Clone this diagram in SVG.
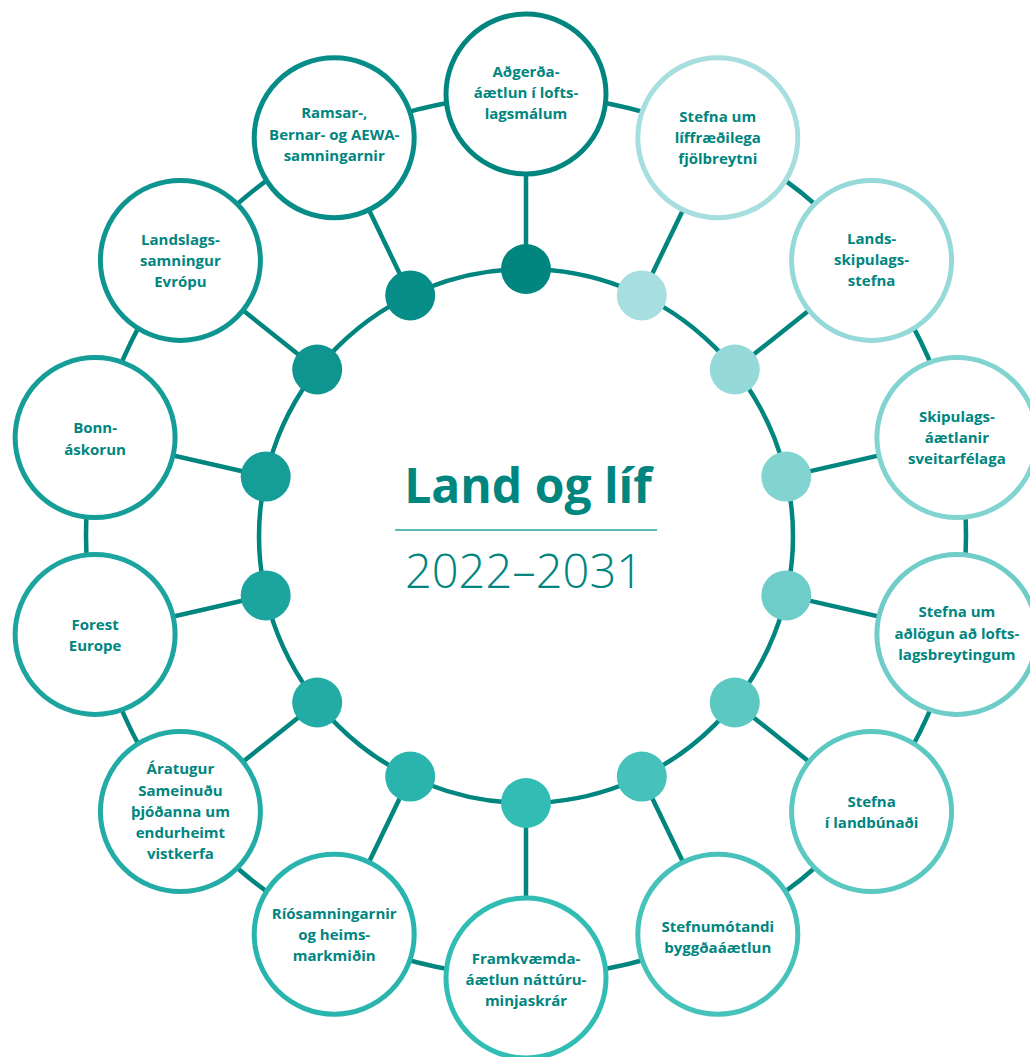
<svg xmlns="http://www.w3.org/2000/svg" width="1030" height="1057" viewBox="0 0 1030 1057">
<style>
.bg{fill:#ffffff}
.conn{stroke:#00857f;stroke-width:4.5;fill:none}
.node{fill:#ffffff;stroke-width:5}
.lbl{font-family:"Open Sans","Noto Sans",sans-serif;font-weight:700;font-size:15px;fill:#00857f;text-anchor:middle}
.title{font-family:"Open Sans","Noto Sans",sans-serif;font-weight:700;font-size:48px;fill:#00857f;text-anchor:middle}
.years{font-family:"Open Sans","Noto Sans",sans-serif;font-weight:300;font-size:47px;fill:#00857f;text-anchor:middle}
</style>
<rect class="bg" x="0" y="0" width="1030" height="1057"/>
<g id="connectors">
<circle class="conn" cx="526" cy="536" r="440"/>
<circle class="conn" cx="526" cy="536" r="267"/>
<line class="conn" x1="526" y1="269" x2="526" y2="94"/>
<line class="conn" x1="641.8" y1="295.4" x2="717.8" y2="137.8"/>
<line class="conn" x1="734.8" y1="369.5" x2="871.6" y2="260.4"/>
<line class="conn" x1="786.3" y1="476.6" x2="956.9" y2="437.6"/>
<line class="conn" x1="786.3" y1="595.4" x2="956.9" y2="634.4"/>
<line class="conn" x1="734.8" y1="702.5" x2="871.6" y2="811.6"/>
<line class="conn" x1="641.8" y1="776.6" x2="717.8" y2="934.2"/>
<line class="conn" x1="526" y1="803" x2="526" y2="978"/>
<line class="conn" x1="410.2" y1="776.6" x2="334.2" y2="934.2"/>
<line class="conn" x1="317.2" y1="702.5" x2="180.4" y2="811.6"/>
<line class="conn" x1="265.7" y1="595.4" x2="95.1" y2="634.4"/>
<line class="conn" x1="265.7" y1="476.6" x2="95.1" y2="437.6"/>
<line class="conn" x1="317.2" y1="369.5" x2="180.4" y2="260.4"/>
<line class="conn" x1="410.2" y1="295.4" x2="334.2" y2="137.8"/>
</g>
<g id="center">
<text class="title" x="528" y="503">Land og líf</text>
<line x1="395" y1="530" x2="657" y2="530" stroke="#26a39d" stroke-width="1.5"/>
<text class="years" x="524" y="588">2022–2031</text>
</g>
<g id="n1">
<circle class="node" cx="526" cy="94" r="80" stroke="#00867f"/>
<circle cx="526" cy="269" r="25" fill="#00867f"/>
<text class="lbl" x="526"><tspan x="526" y="77">Aðgerða-</tspan><tspan x="526" y="98.2">áætlun í lofts-</tspan><tspan x="526" y="119.4">lagsmálum</tspan></text>
</g>
<g id="n2">
<circle class="node" cx="717.8" cy="137.8" r="80" stroke="#a7dedf"/>
<circle cx="641.8" cy="295.4" r="25" fill="#a7dedf"/>
<text class="lbl"><tspan x="717.8" y="121.7">Stefna um</tspan><tspan x="717.8" y="142.9">líffræðilega</tspan><tspan x="717.8" y="164.1">fjölbreytni</tspan></text>
</g>
<g id="n3">
<circle class="node" cx="871.6" cy="260.4" r="80" stroke="#95d9d9"/>
<circle cx="734.8" cy="369.5" r="25" fill="#95d9d9"/>
<text class="lbl"><tspan x="871.6" y="244">Lands-</tspan><tspan x="871.6" y="265.2">skipulags-</tspan><tspan x="871.6" y="286.4">stefna</tspan></text>
</g>
<g id="n4">
<circle class="node" cx="956.9" cy="437.6" r="80" stroke="#82d4d1"/>
<circle cx="786.3" cy="476.6" r="25" fill="#82d4d1"/>
<text class="lbl"><tspan x="956.9" y="421.7">Skipulags-</tspan><tspan x="956.9" y="442.9">áætlanir</tspan><tspan x="956.9" y="464.1">sveitarfélaga</tspan></text>
</g>
<g id="n5">
<circle class="node" cx="956.9" cy="634.4" r="80" stroke="#6ecdc9"/>
<circle cx="786.3" cy="595.4" r="25" fill="#6ecdc9"/>
<text class="lbl"><tspan x="956.9" y="617.3">Stefna um</tspan><tspan x="956.9" y="638.5">aðlögun að lofts-</tspan><tspan x="956.9" y="659.7">lagsbreytingum</tspan></text>
</g>
<g id="n6">
<circle class="node" cx="871.6" cy="811.6" r="80" stroke="#5bc8c2"/>
<circle cx="734.8" cy="702.5" r="25" fill="#5bc8c2"/>
<text class="lbl"><tspan x="871.6" y="806.7">Stefna</tspan><tspan x="871.6" y="827.9">í landbúnaði</tspan></text>
</g>
<g id="n7">
<circle class="node" cx="717.8" cy="934.2" r="80" stroke="#46c2bb"/>
<circle cx="641.8" cy="776.6" r="25" fill="#46c2bb"/>
<text class="lbl"><tspan x="717.8" y="931.7">Stefnumótandi</tspan><tspan x="717.8" y="952.9">byggðaáætlun</tspan></text>
</g>
<g id="n8">
<circle class="node" cx="526" cy="978" r="80" stroke="#31bdb4"/>
<circle cx="526" cy="803" r="25" fill="#31bdb4"/>
<text class="lbl"><tspan x="526" y="964">Framkvæmda-</tspan><tspan x="526" y="985.2">áætlun náttúru-</tspan><tspan x="526" y="1006.4">minjaskrár</tspan></text>
</g>
<g id="n9">
<circle class="node" cx="334.2" cy="934.2" r="80" stroke="#29b5ae"/>
<circle cx="410.2" cy="776.6" r="25" fill="#29b5ae"/>
<text class="lbl"><tspan x="334.2" y="919">Ríósamningarnir</tspan><tspan x="334.2" y="940.2">og heims-</tspan><tspan x="334.2" y="961.4">markmiðin</tspan></text>
</g>
<g id="n10">
<circle class="node" cx="180.4" cy="811.6" r="80" stroke="#23aca6"/>
<circle cx="317.2" cy="702.5" r="25" fill="#23aca6"/>
<text class="lbl"><tspan x="180.4" y="774.3">Áratugur</tspan><tspan x="180.4" y="795.5">Sameinuðu</tspan><tspan x="180.4" y="816.7">þjóðanna um</tspan><tspan x="180.4" y="837.9">endurheimt</tspan><tspan x="180.4" y="859.1">vistkerfa</tspan></text>
</g>
<g id="n11">
<circle class="node" cx="95.1" cy="634.4" r="80" stroke="#1ca49e"/>
<circle cx="265.7" cy="595.4" r="25" fill="#1ca49e"/>
<text class="lbl"><tspan x="95.1" y="630">Forest</tspan><tspan x="95.1" y="651.2">Europe</tspan></text>
</g>
<g id="n12">
<circle class="node" cx="95.1" cy="437.6" r="80" stroke="#159d98"/>
<circle cx="265.7" cy="476.6" r="25" fill="#159d98"/>
<text class="lbl"><tspan x="95.1" y="433.3">Bonn-</tspan><tspan x="95.1" y="454.5">áskorun</tspan></text>
</g>
<g id="n13">
<circle class="node" cx="180.4" cy="260.4" r="80" stroke="#0f9590"/>
<circle cx="317.2" cy="369.5" r="25" fill="#0f9590"/>
<text class="lbl"><tspan x="180.4" y="245">Landslags-</tspan><tspan x="180.4" y="266.2">samningur</tspan><tspan x="180.4" y="287.4">Evrópu</tspan></text>
</g>
<g id="n14">
<circle class="node" cx="334.2" cy="137.8" r="80" stroke="#078d88"/>
<circle cx="410.2" cy="295.4" r="25" fill="#078d88"/>
<text class="lbl"><tspan x="334.2" y="118.3">Ramsar-,</tspan><tspan x="334.2" y="139.5">Bernar- og AEWA-</tspan><tspan x="334.2" y="160.7">samningarnir</tspan></text>
</g>
</svg>
